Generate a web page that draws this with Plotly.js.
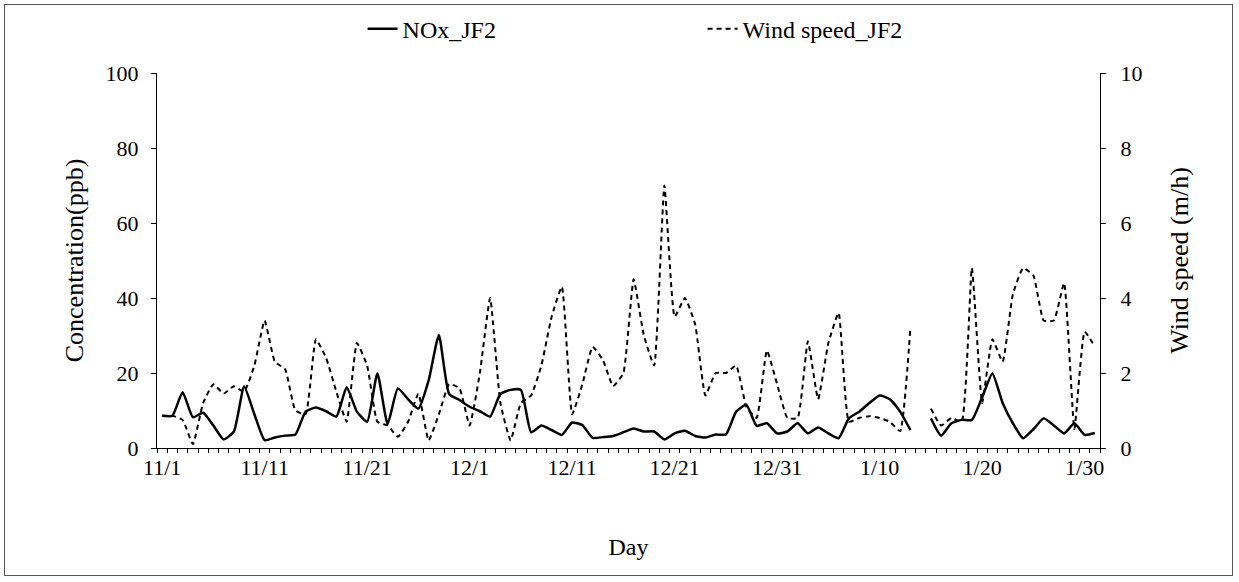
<!DOCTYPE html>
<html>
<head>
<meta charset="utf-8">
<script src="https://cdn.plot.ly/plotly-3.0.1.min.js"></script>
<style>
  html, body { margin: 0; padding: 0; background: #fff; }
  #chart { width: 1239px; height: 582px; }
  #frame { position: absolute; left: 4px; top: 4px; width: 1229px; height: 572px; border: 1px solid #555; box-sizing: border-box; pointer-events: none; }
</style>
</head>
<body>
<div id="chart"></div>
<div id="frame"></div>
<script>
const days = [
  "11/1","11/2","11/3","11/4","11/5","11/6","11/7","11/8","11/9","11/10",
  "11/11","11/12","11/13","11/14","11/15","11/16","11/17","11/18","11/19","11/20",
  "11/21","11/22","11/23","11/24","11/25","11/26","11/27","11/28","11/29","11/30",
  "12/1","12/2","12/3","12/4","12/5","12/6","12/7","12/8","12/9","12/10",
  "12/11","12/12","12/13","12/14","12/15","12/16","12/17","12/18","12/19","12/20",
  "12/21","12/22","12/23","12/24","12/25","12/26","12/27","12/28","12/29","12/30",
  "12/31","1/1","1/2","1/3","1/4","1/5","1/6","1/7","1/8","1/9",
  "1/10","1/11","1/12","1/13","1/14","1/15","1/16","1/17","1/18","1/19",
  "1/20","1/21","1/22","1/23","1/24","1/25","1/26","1/27","1/28","1/29",
  "1/30","1/31"
];

const tickLabels = ["11/1","11/11","11/21","12/1","12/11","12/21","12/31","1/10","1/20","1/30"];

// NOx concentration (ppb)
const noxJF2 = [
  8.6, 8.6, 14.9, 8.2, 9.4, 6.0, 2.3, 4.4, 16.4, 9.0,
  2.1, 2.8, 3.3, 3.6, 9.7, 10.8, 9.8, 8.4, 16.2, 9.7,
  7.0, 19.9, 6.4, 15.9, 13.0, 10.5, 18.0, 30.1, 14.4, 12.8,
  11.0, 9.8, 8.4, 14.4, 15.5, 15.5, 4.2, 6.0, 4.8, 3.5,
  6.8, 6.1, 2.7, 2.9, 3.2, 4.2, 5.2, 4.4, 4.4, 2.3,
  3.9, 4.6, 3.2, 2.8, 3.6, 3.6, 9.7, 11.5, 5.9, 6.6,
  3.9, 4.4, 6.6, 3.9, 5.5, 3.9, 2.6, 7.9, 9.7, 12.0,
  14.0, 13.0, 9.7, 4.8, null, 7.9, 3.3, 6.6, 7.5, 7.5,
  13.5, 19.9, 12.0, 6.6, 2.6, 5.0, 7.9, 6.0, 3.9, 6.6,
  3.5, 4.0
];

// Wind speed (m/h)
const windJF2 = [
  0.86, 0.86, 0.75, 0.1, 1.2, 1.7, 1.45, 1.65, 1.5, 2.2,
  3.4, 2.3, 2.1, 1.0, 0.9, 2.9, 2.4, 1.5, 0.7, 2.8,
  2.2, 0.7, 0.6, 0.3, 0.7, 1.45, 0.2, 0.9, 1.7, 1.6,
  0.6, 2.0, 4.0, 1.2, 0.2, 1.2, 1.4, 2.2, 3.5, 4.3,
  0.9, 1.7, 2.7, 2.35, 1.65, 2.0, 4.5, 3.0, 2.2, 7.0,
  3.5, 4.0, 3.3, 1.4, 2.0, 2.0, 2.2, 1.1, 0.8, 2.6,
  1.7, 0.8, 0.8, 2.85, 1.3, 2.8, 3.6, 0.7, 0.8, 0.85,
  0.8, 0.7, 0.45, 3.2, null, 1.05, 0.6, 0.8, 0.7, 4.8,
  1.2, 2.9, 2.3, 4.1, 4.8, 4.6, 3.4, 3.4, 4.4, 0.5,
  3.1, 2.7
];

const FONT = "Liberation Serif";

const traces = [
  {
    x: days, y: noxJF2, name: "NOx_JF2", type: "scatter", mode: "lines",
    line: { color: "#000", width: 2.5, shape: "spline", smoothing: 0.5 },
    connectgaps: false, yaxis: "y"
  },
  {
    x: days, y: windJF2, name: "Wind speed_JF2", type: "scatter", mode: "lines",
    line: { color: "#000", width: 2, dash: "5px,4px", shape: "spline", smoothing: 0.4 },
    connectgaps: false, yaxis: "y2"
  }
];

const layout = {
  width: 1239, height: 582,
  margin: { l: 157, r: 139, t: 73, b: 134, autoexpand: false },
  paper_bgcolor: "#fff", plot_bgcolor: "#fff",
  font: { family: FONT, color: "#000", size: 22 },
  showlegend: true,
  legend: {
    orientation: "h", x: 0.218, xanchor: "left", y: 1.117, yanchor: "middle",
    font: { family: FONT, size: 24, color: "#000" },
    entrywidth: 295, entrywidthmode: "pixels", itemwidth: 30,
    bgcolor: "rgba(0,0,0,0)"
  },
  xaxis: {
    type: "category",
    tickmode: "array",
    tickvals: days,
    ticktext: days.map(d => tickLabels.includes(d) ? d : ""),
    tickson: "boundaries",
    ticks: "outside", ticklen: 4, tickwidth: 1, tickcolor: "#000",
    showline: true, linecolor: "#000", linewidth: 1,
    showgrid: false, zeroline: false,
    tickangle: 0,
    tickfont: { family: FONT, size: 22 },
    title: { text: "Day", font: { family: FONT, size: 24 }, standoff: 58 },
    range: [-0.5, 91.5]
  },
  yaxis: {
    range: [0, 100], tickvals: [0, 20, 40, 60, 80, 100],
    ticks: "outside", ticklen: 5, tickcolor: "#000",
    showline: true, linecolor: "#000", linewidth: 1,
    showgrid: false, zeroline: false,
    tickfont: { family: FONT, size: 22 },
    ticklabelstandoff: 8,
    title: { text: "Concentration(ppb)", font: { family: FONT, size: 26 }, standoff: 14 }
  },
  yaxis2: {
    overlaying: "y", side: "right",
    range: [0, 10], tickvals: [0, 2, 4, 6, 8, 10],
    ticks: "outside", ticklen: 5, tickcolor: "#000",
    showline: true, linecolor: "#000", linewidth: 1,
    showgrid: false, zeroline: false,
    tickfont: { family: FONT, size: 22 },
    ticklabelstandoff: 10,
    title: { text: "Wind speed (m/h)", font: { family: FONT, size: 26 }, standoff: 28 }
  }
};

Plotly.newPlot("chart", traces, layout, { staticPlot: true, displayModeBar: false });
</script>
</body>
</html>
